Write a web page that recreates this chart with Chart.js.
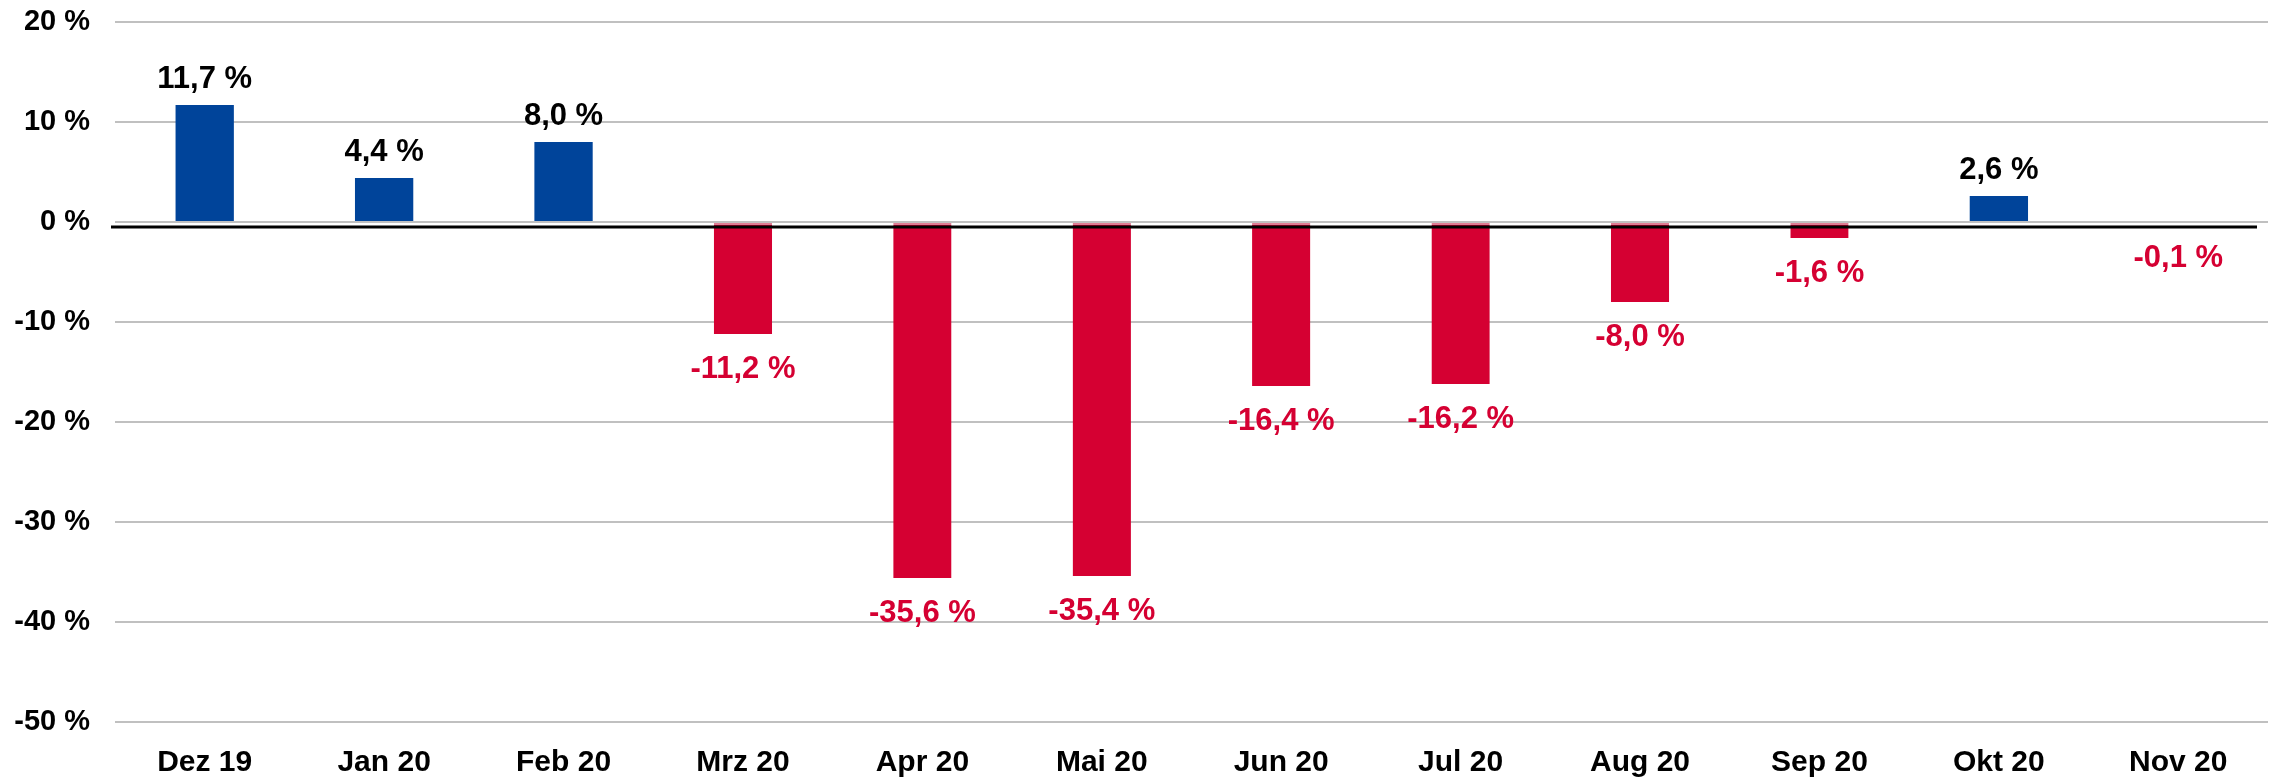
<!DOCTYPE html>
<html>
<head>
<meta charset="utf-8">
<script src="https://cdn.jsdelivr.net/npm/chart.js@4"></script>
<style>
    html, body { margin: 0; padding: 0; background: #fff; }
    #wrap { width: 2272px; height: 779px; }
</style>
</head>
<body>
<div id="wrap"><canvas id="chart" width="2272" height="779"></canvas></div>
<script>
const months = ["Dez 19", "Jan 20", "Feb 20", "Mrz 20", "Apr 20", "Mai 20", "Jun 20", "Jul 20", "Aug 20", "Sep 20", "Okt 20", "Nov 20"]
const changes = [11.7, 4.4, 8.0, -11.2, -35.6, -35.4, -16.4, -16.2, -8.0, -1.6, 2.6, -0.1]
const yTicks = [20, 10, 0, -10, -20, -30, -40, -50]

const blue = "#00449a"
const red = "#d50032"
const font = "Liberation Sans, Arial, sans-serif"

function formatPct(v) {
    return v.toFixed(1).replace(".", ",") + " %"
}

function barColor(v) {
    if (Math.abs(v) < 0.5) return "#5077ab"
    return v >= 0 ? blue : red
}

// black base line a little below the 0 gridline
const baseLine = {
    id: "baseLine",
    afterDatasetsDraw(chart) {
        const { ctx, chartArea, scales } = chart
        const y = scales.y.getPixelForValue(0) + 5
        ctx.save()
        ctx.strokeStyle = "#000"
        ctx.lineWidth = 3
        ctx.beginPath()
        ctx.moveTo(chartArea.left - 4, y)
        ctx.lineTo(chartArea.right - 11, y)
        ctx.stroke()
        ctx.restore()
    }
}

const valueLabels = {
    id: "valueLabels",
    afterDraw(chart) {
        const { ctx } = chart
        const meta = chart.getDatasetMeta(0)
        ctx.save()
        ctx.font = "bold 31px " + font
        ctx.textAlign = "center"
        ctx.textBaseline = "alphabetic"
        meta.data.forEach((bar, i) => {
            const v = changes[i]
            if (v >= 0) {
                ctx.fillStyle = "#000"
                ctx.fillText(formatPct(v), bar.x, bar.y - 17)
            } else {
                ctx.fillStyle = red
                ctx.fillText(formatPct(v), bar.x, bar.y + 44)
            }
        })
        ctx.restore()
    }
}

new Chart(document.getElementById("chart"), {
    type: "bar",
    data: {
        labels: months,
        datasets: [{
            data: changes,
            backgroundColor: changes.map(barColor),
            borderColor: "#e07a92",
            borderWidth: ctx => (changes[ctx.dataIndex] < -0.5 ? { top: 2, right: 0, bottom: 0, left: 0 } : 0),
            borderSkipped: false,
            categoryPercentage: 1,
            barPercentage: 0.325
        }]
    },
    options: {
        responsive: false,
        animation: false,
        layout: { padding: { top: 0, right: 4, left: 0, bottom: 0 } },
        plugins: {
            legend: { display: false },
            tooltip: { enabled: false }
        },
        scales: {
            x: {
                grid: { display: false, drawTicks: false },
                border: { display: false },
                ticks: {
                    color: "#000",
                    font: { family: font, size: 30, weight: "bold" },
                    padding: 23,
                    maxRotation: 0
                },
                afterFit(scale) { scale.height = 57 }
            },
            y: {
                min: -50,
                max: 20,
                afterBuildTicks(scale) {
                    scale.ticks = yTicks.map(v => ({ value: v }))
                },
                grid: { color: "#c0c0c0", lineWidth: 2, drawTicks: false },
                border: { display: false },
                ticks: {
                    color: "#000",
                    font: { family: font, size: 29, weight: "bold" },
                    padding: 25,
                    callback: v => v + " %"
                },
                afterFit(scale) {
                    scale.width = 115
                    scale.paddingTop = 22
                    scale.paddingBottom = 0
                }
            }
        }
    },
    plugins: [baseLine, valueLabels]
})
</script>
</body>
</html>
